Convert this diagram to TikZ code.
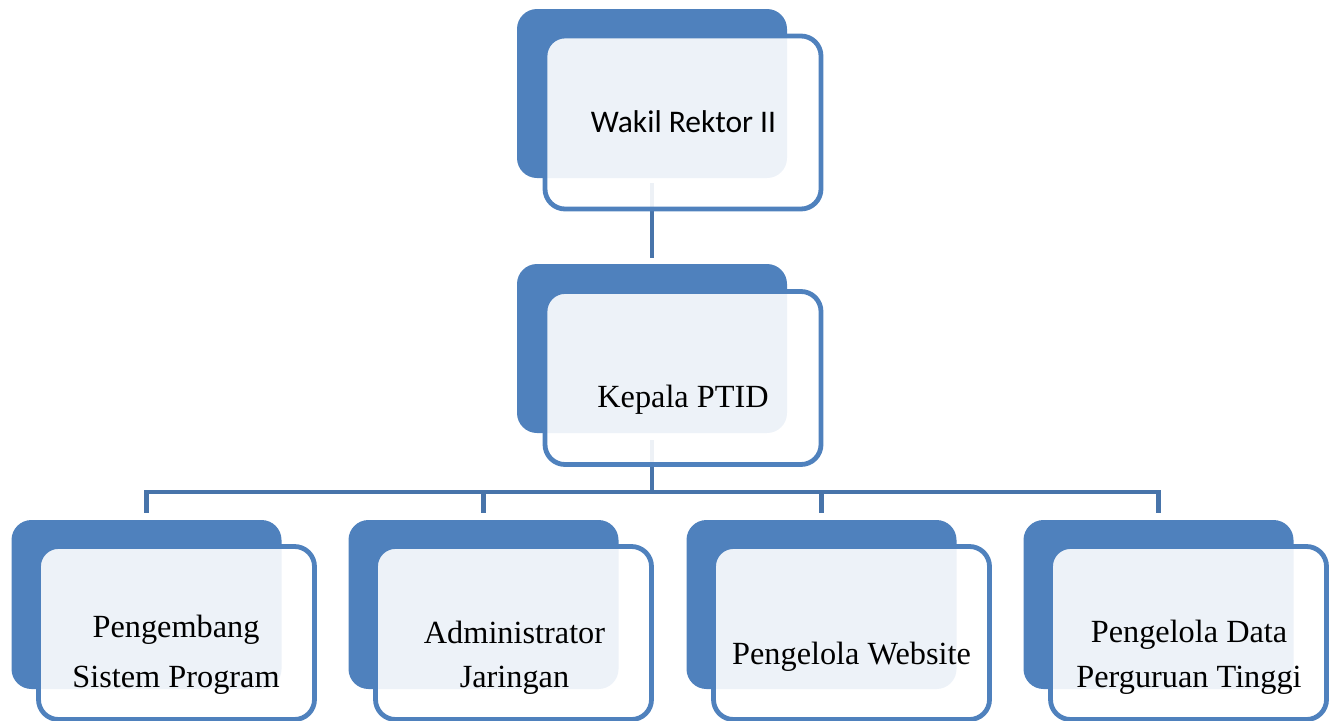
\documentclass[tikz,border=0pt]{standalone}
\usepackage{fontspec}
\setmainfont{Liberation Serif}
\newfontfamily\calfont{Carlito}
\definecolor{boxblue}{HTML}{4F81BD}
\definecolor{lineblue}{HTML}{4874AA}
\begin{document}
\begin{tikzpicture}[x=1pt,y=-1pt,
  backbox/.style={draw=none,fill=boxblue,rounded corners=20pt,minimum width=270pt,minimum height=169pt,inner sep=0pt},
  frontbox/.style={draw=boxblue,line width=4.8pt,fill=white,fill opacity=0.9,rounded corners=20pt,minimum width=276pt,minimum height=173pt,inner sep=0pt},
  conn/.style={draw=lineblue,line width=4.8pt},
  lbl/.style={anchor=base,inner sep=0pt,font=\fontsize{32.3}{38}\selectfont},
  lblsans/.style={anchor=base,inner sep=0pt,font=\calfont\fontsize{31.5}{37}\selectfont}]
\useasboundingbox (0,0) rectangle (1337,720);
% back boxes
\node[backbox] (b1) at (652,93.5) {};
\node[backbox] (b2) at (652,348.5) {};
\node[backbox] (c1) at (146.5,604.5) {};
\node[backbox] (c2) at (483.5,604.5) {};
\node[backbox] (c3) at (821.5,604.5) {};
\node[backbox] (c4) at (1158.5,604.5) {};
% connectors
\coordinate (bus) at (652,492);
\coordinate (busl) at (146.5,492);
\coordinate (busr) at (1158.5,492);
\draw[conn] ([yshift=-5pt]b1.south) -- ([yshift=6pt]b2.north);
\draw[conn] ([yshift=-7pt]b2.south) -- (bus);
\draw[conn] ([yshift=7pt]c1.north) -- (busl) -- (busr) -- ([yshift=7pt]c4.north);
\draw[conn] ([yshift=7pt]c2.north) -- (c2.north |- bus);
\draw[conn] ([yshift=7pt]c3.north) -- (c3.north |- bus);
% front boxes
\node[frontbox] (f1) at (683,122.5) {};
\node[frontbox] (f2) at (683,378) {};
\node[frontbox] (g1) at (176.5,633) {};
\node[frontbox] (g2) at (513.5,633) {};
\node[frontbox] (g3) at (851.5,633) {};
\node[frontbox] (g4) at (1188.5,633) {};
% texts
\node[lblsans] (t1) at (683.5,132) {Wakil Rektor II};
\node[lbl] (t2) at (683,407) {Kepala PTID};
\node[lbl] (t3a) at (176,637) {Pengembang};
\node[lbl] (t3b) at (176,687) {Sistem Program};
\node[lbl] (t4a) at (514.5,643) {Administrator};
\node[lbl] (t4b) at (514.5,687) {Jaringan};
\node[lbl] (t5) at (851.5,664) {Pengelola Website};
\node[lbl] (t6a) at (1189,642) {Pengelola Data};
\node[lbl] (t6b) at (1189,687) {Perguruan Tinggi};
\end{tikzpicture}
\end{document}
